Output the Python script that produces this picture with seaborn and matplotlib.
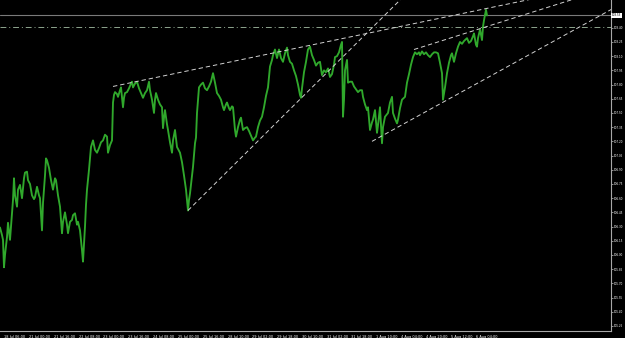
import matplotlib
matplotlib.use("Agg")
import matplotlib.pyplot as plt
import matplotlib.transforms as mtransforms
import seaborn as sns
import pandas as pd

# ---- data (USDJPY-like quotes, bar index vs price) ----
bar_index = [0, 2, 3, 4, 5, 7, 8, 10, 12, 13, 14, 15, 17, 18, 20, 22, 24, 25, 27, 28,
             30, 32, 34, 35, 37, 39, 40, 41, 42, 43, 45, 46, 47, 49, 51, 53, 55, 56, 58, 60,
             61, 62, 63, 65, 67, 68, 70, 72, 73, 75, 77, 78, 80, 81, 82, 83, 84, 85, 86, 87,
             89, 91, 93, 95, 97, 99, 101, 103, 105, 107, 108, 110, 112, 113, 114, 115, 117, 118, 120, 121,
             122, 123, 124, 125, 127, 129, 131, 132, 133, 135, 137, 139, 141, 143, 145, 147, 149, 150, 152, 154,
             155, 156, 158, 160, 162, 163, 164, 165, 167, 168, 170, 172, 173, 175, 177, 180, 182, 184, 186, 187,
             188, 189, 190, 192, 193, 195, 196, 197, 198, 199, 201, 203, 205, 207, 209, 211, 213, 215, 217, 219,
             221, 223, 224, 226, 227, 229, 230, 232, 233, 235, 236, 238, 240, 241, 243, 245, 247, 249, 251, 253,
             255, 256, 258, 260, 262, 264, 266, 268, 270, 272, 273, 275, 277, 279, 281, 283, 285, 287, 288, 290,
             292, 294, 296, 298, 300, 301, 302, 304, 306, 308, 310, 312, 314, 316, 318, 320, 322, 324, 326, 328,
             330, 332, 334, 335, 337, 339, 341, 342, 343, 344, 345, 347, 348, 350, 352, 354, 356, 358, 360, 362,
             363, 365, 367, 368, 370, 372, 373, 375, 377, 378, 380, 381, 382, 383, 385, 388, 390, 392, 393, 395,
             397, 398, 400, 402, 405, 407, 409, 411, 413, 415, 417, 419, 420, 422, 424, 426, 428, 430, 432, 434,
             436, 438, 440, 442, 443, 445, 447, 449, 451, 452, 454, 456, 458, 460, 462, 464, 466, 467, 469, 471,
             473, 474, 476, 477, 478, 480, 482, 483, 484, 486, 487]
price = [106.29, 106.21, 106.16, 105.87, 106.00, 106.19, 106.34, 106.16, 106.45, 106.58, 106.81, 106.63, 106.51, 106.69, 106.74, 106.60, 106.81, 106.87, 106.88, 106.79,
         106.75, 106.63, 106.59, 106.61, 106.72, 106.63, 106.60, 106.42, 106.26, 106.55, 106.84, 107.02, 107.00, 106.92, 106.79, 106.69, 106.81, 106.79, 106.63, 106.51,
         106.37, 106.23, 106.35, 106.45, 106.32, 106.23, 106.35, 106.37, 106.42, 106.44, 106.32, 106.35, 106.26, 106.16, 106.05, 105.93, 106.11, 106.30, 106.53, 106.69,
         106.90, 107.14, 107.21, 107.11, 107.08, 107.13, 107.19, 107.21, 107.27, 107.25, 107.08, 107.16, 107.21, 107.61, 107.69, 107.72, 107.70, 107.67, 107.74, 107.77,
         107.67, 107.56, 107.66, 107.71, 107.72, 107.76, 107.81, 107.83, 107.77, 107.81, 107.83, 107.76, 107.71, 107.66, 107.71, 107.74, 107.83, 107.74, 107.64, 107.50,
         107.64, 107.71, 107.64, 107.59, 107.56, 107.34, 107.45, 107.53, 107.38, 107.32, 107.19, 107.08, 107.21, 107.32, 107.14, 107.08, 106.98, 106.84, 106.69, 106.58,
         106.47, 106.58, 106.65, 106.84, 106.93, 107.18, 107.24, 107.50, 107.64, 107.77, 107.80, 107.82, 107.76, 107.74, 107.78, 107.83, 107.92, 107.82, 107.71, 107.68,
         107.64, 107.56, 107.53, 107.59, 107.61, 107.55, 107.53, 107.57, 107.56, 107.32, 107.25, 107.35, 107.43, 107.45, 107.32, 107.34, 107.35, 107.31, 107.26, 107.21,
         107.24, 107.25, 107.35, 107.42, 107.46, 107.56, 107.68, 107.77, 107.99, 108.06, 108.11, 108.17, 108.08, 108.17, 108.08, 108.04, 108.13, 108.19, 108.11, 108.04,
         108.02, 107.95, 107.89, 107.80, 107.69, 107.66, 107.76, 107.93, 108.04, 108.17, 108.20, 108.11, 108.06, 108.00, 108.03, 108.04, 107.90, 107.95, 107.93, 107.97,
         107.88, 107.91, 108.01, 108.09, 108.10, 108.14, 108.22, 108.25, 107.46, 107.64, 107.95, 108.06, 107.82, 107.83, 107.83, 107.78, 107.75, 107.72, 107.74, 107.74,
         107.67, 107.59, 107.53, 107.56, 107.32, 107.40, 107.43, 107.53, 107.29, 107.37, 107.56, 107.37, 107.18, 107.35, 107.46, 107.50, 107.61, 107.67, 107.50, 107.44,
         107.39, 107.43, 107.55, 107.64, 107.67, 107.82, 107.91, 108.01, 108.09, 108.14, 108.12, 108.14, 108.11, 108.15, 108.12, 108.14, 108.11, 108.09, 108.12, 108.14,
         108.14, 108.13, 108.03, 107.92, 107.64, 107.77, 107.92, 108.03, 108.11, 108.13, 108.04, 108.13, 108.20, 108.25, 108.23, 108.26, 108.28, 108.29, 108.24, 108.26,
         108.31, 108.34, 108.22, 108.20, 108.29, 108.38, 108.27, 108.41, 108.48, 108.59, 108.53]

time_tick_bars = [4, 29, 54, 79, 103, 128, 153, 178, 203, 228, 252, 277, 302, 327, 351, 376, 401, 426, 451, 476]
time_tick_labels = ["18 Jul 06:00", "21 Jul 00:00", "21 Jul 16:00", "22 Jul 08:00", "23 Jul 00:00",
                    "23 Jul 16:00", "24 Jul 08:00", "25 Jul 00:00", "25 Jul 16:00", "28 Jul 10:00",
                    "29 Jul 02:00", "29 Jul 18:00", "30 Jul 10:00", "31 Jul 02:00", "31 Jul 18:00",
                    "1 Aug 10:00", "4 Aug 04:00", "4 Aug 20:00", "5 Aug 12:00", "6 Aug 04:00"]
price_ticks = [105.25, 105.40, 105.55, 105.70, 105.85, 106.00, 106.15, 106.30, 106.45, 106.60,
               106.75, 106.90, 107.05, 107.20, 107.35, 107.50, 107.65, 107.80, 107.95, 108.10,
               108.25, 108.40]

# trend lines: two anchor points (bar, price) each, drawn as rays to the right
trend_lines = [((113, 107.78), (240, 108.06)),
               ((188, 106.47), (333, 107.99)),
               ((372, 107.20), (530, 108.12)),
               ((414, 108.17), (507, 108.48))]
bid_price = 108.53
level_price = 108.41

df = pd.DataFrame({"bar": bar_index, "price": price})

sns.set_theme(style="dark")
plt.rcParams["font.family"] = ["DejaVu Sans"]

fig = plt.figure(figsize=(6.25, 3.38), dpi=100, facecolor="black")
ax = fig.add_axes([0.0, 7 / 338, 611 / 625, 331 / 338])
ax.set_facecolor("black")

ax.set_xlim(0, 611)
ax.set_ylim(105.197, 108.693)

# horizontal lines
ax.axhline(bid_price, color="#7a7a7a", lw=0.8, zorder=1)
ax.axhline(level_price, color="#8ea58e", lw=0.7, ls=(0, (6, 3, 1, 3)), zorder=1)

sns.lineplot(data=df, x="bar", y="price", color="#30a82c", lw=1.35,
             estimator=None, sort=False, ax=ax, zorder=3)

# trend line rays
for (x1, y1), (x2, y2) in trend_lines:
    x_end = 700
    y_end = y1 + (y2 - y1) / (x2 - x1) * (x_end - x1)
    ax.plot([x1, x_end], [y1, y_end], color="#d2d2d2", lw=0.7,
            ls=(0, (4.5, 3)), zorder=4)

# axes styling
for s in ["top", "left"]:
    ax.spines[s].set_visible(False)
for s in ["right", "bottom"]:
    ax.spines[s].set_color("#a8a8a8")
    ax.spines[s].set_linewidth(0.8)
ax.grid(False)

ax.yaxis.tick_right()
ax.set_yticks(price_ticks)
ax.set_yticklabels([f"{v:.2f}" for v in price_ticks])
ax.set_xticks(time_tick_bars)
ax.set_xticklabels(time_tick_labels, ha="left")
ax.tick_params(axis="y", colors="#a8a8a8", labelcolor="white", length=1.5, width=0.6,
               labelsize=2.0, pad=0.4)
ax.tick_params(axis="x", colors="#a8a8a8", labelcolor="white", length=2, width=0.6,
               labelsize=2.5, pad=0.6)
ax.set_xlabel("")
ax.set_ylabel("")

# current price box on the price axis
trans = mtransforms.blended_transform_factory(ax.transAxes, ax.transData)
ax.text(1.002, bid_price, f"{bid_price:.2f}", transform=trans, fontsize=2.0,
        color="black", va="center", ha="left", zorder=10, clip_on=False,
        bbox=dict(facecolor="white", edgecolor="none", pad=0.6))

fig.savefig("out.png", dpi=100, facecolor="black")
